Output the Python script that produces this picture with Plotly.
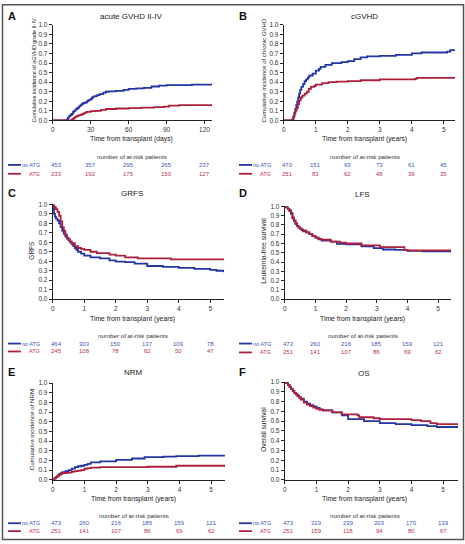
import plotly.graph_objects as go

W, H = 465, 544

# ---------------- data ----------------
# Panel A: acute GVHD II-IV (days)
A_t_no = [0, 9, 11, 12, 13, 14, 15, 16, 17, 18, 19, 20, 21, 22, 23, 24, 25, 26, 27, 28, 29, 30, 31, 32, 33, 35, 37, 40, 42, 44,
          50, 56, 60, 66, 72, 78, 84, 90, 100, 110, 126]
A_y_no = [0, 0, 0.01, 0.03, 0.045, 0.06, 0.07, 0.09, 0.10, 0.115, 0.125, 0.135, 0.15, 0.16, 0.175, 0.18, 0.185, 0.19, 0.20,
          0.21, 0.215, 0.225, 0.24, 0.25, 0.255, 0.265, 0.275, 0.29, 0.30, 0.305,
          0.31, 0.32, 0.33, 0.335, 0.34, 0.355, 0.365, 0.37, 0.37, 0.375, 0.375]
A_t_atg = [0, 13, 15, 16, 17, 18, 19, 20, 21, 22, 23, 24, 25, 26, 27, 30, 34, 38, 42, 50, 60, 70, 80, 88, 92, 100, 126]
A_y_atg = [0, 0, 0.01, 0.02, 0.03, 0.04, 0.045, 0.05, 0.055, 0.06, 0.065, 0.072, 0.08, 0.085, 0.09, 0.097, 0.10, 0.11, 0.12,
           0.125, 0.13, 0.135, 0.14, 0.145, 0.155, 0.16, 0.16]

# Panel B: cGVHD (years)
B_t_no = [0, 0.27, 0.3, 0.33, 0.36, 0.39, 0.42, 0.45, 0.48, 0.51, 0.55, 0.6, 0.65, 0.7, 0.75, 0.8, 0.9, 1.0, 1.1, 1.15, 1.3,
          1.5, 1.8, 2.0, 2.2, 2.4, 2.6, 3.0, 3.5, 4.0, 4.3, 5.0, 5.1, 5.2, 5.35]
B_y_no = [0, 0.01, 0.04, 0.08, 0.12, 0.16, 0.20, 0.24, 0.28, 0.32, 0.35, 0.38, 0.41, 0.43, 0.45, 0.47, 0.49, 0.52, 0.54,
          0.56, 0.58, 0.60, 0.61, 0.62, 0.64, 0.66, 0.67, 0.675, 0.685, 0.70, 0.71, 0.71, 0.72, 0.735, 0.735]
B_t_atg = [0, 0.27, 0.3, 0.33, 0.36, 0.4, 0.44, 0.48, 0.53, 0.58, 0.65, 0.72, 0.78, 0.85, 0.95, 1.0, 1.2, 1.4, 1.65, 2.0,
           2.4, 3.0, 4.1, 4.15, 5.35]
B_y_atg = [0, 0.01, 0.04, 0.07, 0.10, 0.13, 0.17, 0.21, 0.24, 0.26, 0.28, 0.30, 0.33, 0.35, 0.36, 0.375, 0.39, 0.40, 0.405,
           0.41, 0.42, 0.43, 0.435, 0.445, 0.445]

# Panel C: GRFS
C_t_no = [0, 0.02, 0.04, 0.07, 0.1, 0.15, 0.2, 0.25, 0.3, 0.35, 0.4, 0.45, 0.5, 0.55, 0.6, 0.65, 0.7, 0.75, 0.8, 0.9, 1.0,
          1.2, 1.5, 1.8, 2.0, 2.3, 2.6, 3.0, 3.5, 4.0, 4.5, 5.0, 5.2, 5.44]
C_y_no = [1.0, 0.95, 0.90, 0.87, 0.85, 0.83, 0.80, 0.76, 0.72, 0.69, 0.66, 0.64, 0.62, 0.60, 0.58, 0.56, 0.54, 0.52, 0.50,
          0.48, 0.46, 0.44, 0.43, 0.41, 0.395, 0.39, 0.375, 0.35, 0.34, 0.33, 0.32, 0.31, 0.30, 0.285]
C_t_atg = [0, 0.05, 0.1, 0.15, 0.2, 0.25, 0.3, 0.35, 0.4, 0.45, 0.5, 0.55, 0.6, 0.7, 0.8, 0.9, 1.0, 1.2, 1.4, 1.8, 2.0,
           2.3, 2.7, 3.7, 3.75, 5.44]
C_y_atg = [1.0, 0.97, 0.95, 0.92, 0.88, 0.82, 0.76, 0.72, 0.68, 0.65, 0.63, 0.61, 0.59, 0.56, 0.54, 0.53, 0.52, 0.50, 0.485,
           0.47, 0.46, 0.44, 0.43, 0.43, 0.42, 0.42]

# Panel D: LFS
D_t_no = [0, 0.05, 0.1, 0.15, 0.2, 0.25, 0.3, 0.35, 0.4, 0.45, 0.5, 0.55, 0.6, 0.7, 0.8, 0.9, 1.0, 1.1, 1.2, 1.5, 1.7, 2.0,
          2.5, 2.9, 3.2, 3.6, 4.0, 4.5, 5.42]
D_y_no = [1.0, 0.99, 0.97, 0.95, 0.92, 0.87, 0.84, 0.81, 0.79, 0.77, 0.76, 0.745, 0.73, 0.72, 0.70, 0.68, 0.66, 0.645, 0.63,
          0.62, 0.595, 0.59, 0.57, 0.55, 0.535, 0.53, 0.52, 0.515, 0.51]
D_t_atg = [0, 0.05, 0.1, 0.15, 0.2, 0.25, 0.3, 0.35, 0.4, 0.45, 0.5, 0.55, 0.6, 0.7, 0.8, 0.9, 1.0, 1.1, 1.2, 1.5, 1.8, 2.0,
           2.5, 3.0, 3.1, 3.7, 3.9, 4.0, 5.42]
D_y_atg = [1.0, 0.99, 0.97, 0.96, 0.93, 0.88, 0.85, 0.82, 0.79, 0.77, 0.76, 0.75, 0.74, 0.72, 0.70, 0.68, 0.665, 0.65, 0.64,
           0.62, 0.61, 0.60, 0.58, 0.58, 0.56, 0.56, 0.53, 0.525, 0.525]

# Panel E: NRM
E_t_no = [0, 0.05, 0.1, 0.15, 0.2, 0.25, 0.3, 0.4, 0.5, 0.6, 0.7, 0.8, 0.9, 1.0, 1.1, 1.2, 1.5, 2.0, 2.5, 2.9, 3.5, 3.9,
          4.6, 5.44]
E_y_no = [0, 0.015, 0.03, 0.045, 0.06, 0.07, 0.08, 0.09, 0.10, 0.115, 0.13, 0.14, 0.145, 0.155, 0.165, 0.18, 0.19, 0.205,
          0.22, 0.235, 0.24, 0.245, 0.25, 0.25]
E_t_atg = [0, 0.05, 0.1, 0.15, 0.2, 0.25, 0.3, 0.4, 0.5, 0.6, 0.7, 0.8, 0.9, 1.0, 1.1, 1.2, 1.5, 3.0, 3.9, 5.44]
E_y_atg = [0, 0.015, 0.03, 0.04, 0.05, 0.06, 0.07, 0.072, 0.075, 0.085, 0.09, 0.095, 0.10, 0.115, 0.12, 0.125, 0.13, 0.135,
           0.145, 0.145]

# Panel F: OS
F_t_no = [0, 0.05, 0.1, 0.15, 0.2, 0.25, 0.3, 0.35, 0.4, 0.45, 0.5, 0.6, 0.7, 0.8, 0.9, 1.0, 1.1, 1.2, 1.5, 1.8, 2.0, 2.5,
          3.0, 3.5, 4.0, 4.5, 4.8, 5.47]
F_y_no = [1.0, 0.99, 0.97, 0.95, 0.93, 0.91, 0.89, 0.875, 0.86, 0.845, 0.83, 0.80, 0.78, 0.765, 0.75, 0.735, 0.72, 0.71,
          0.69, 0.66, 0.62, 0.60, 0.58, 0.57, 0.56, 0.55, 0.54, 0.53]
F_t_atg = [0, 0.05, 0.1, 0.15, 0.2, 0.25, 0.3, 0.35, 0.4, 0.45, 0.5, 0.6, 0.7, 0.8, 0.9, 1.0, 1.1, 1.2, 1.5, 1.8, 2.3, 2.35,
           2.8, 3.0, 3.7, 4.0, 4.3, 4.6, 4.8, 5.47]
F_y_atg = [1.0, 0.99, 0.97, 0.95, 0.93, 0.91, 0.89, 0.875, 0.86, 0.84, 0.82, 0.79, 0.77, 0.755, 0.74, 0.725, 0.715, 0.71,
           0.69, 0.67, 0.66, 0.64, 0.63, 0.62, 0.62, 0.61, 0.60, 0.58, 0.57, 0.57]

# at-risk tables
A_ticks = [0, 30, 60, 90, 120]
Y_ticks = [0, 1, 2, 3, 4, 5]
A_risk_no = [453, 357, 295, 265, 237]
A_risk_atg = [233, 192, 175, 150, 127]
B_risk_no = [470, 151, 93, 73, 61, 45]
B_risk_atg = [251, 83, 62, 48, 39, 35]
C_risk_no = [464, 303, 150, 137, 109, 78]
C_risk_atg = [245, 108, 78, 62, 50, 47]
D_risk_no = [473, 260, 216, 185, 159, 121]
D_risk_atg = [251, 141, 107, 86, 69, 62]
E_risk_no = [473, 260, 216, 185, 159, 121]
E_risk_atg = [251, 141, 107, 86, 69, 62]
F_risk_no = [473, 319, 239, 203, 170, 139]
F_risk_atg = [251, 159, 118, 94, 80, 67]

series_names = ["no ATG", "ATG"]
panel_titles = ["acute GVHD II-IV", "cGVHD", "GRFS", "LFS", "NRM", "OS"]
panel_letters = ["A", "B", "C", "D", "E", "F"]
y_titles = ["Cumulative incidence of aGVHD grade II-IV", "Cumulative incidence of chronic GVHD",
            "GRFS", "Leukemia-free survival", "Cumulative incidence of NRM", "Overall survival"]
y_title_sizes = [5.4, 6, 6.5, 6.5, 6.2, 6.5]
x_titles = ["Time from transplant (days)"] + ["Time from transplant (years)"] * 5
risk_title = "number of at-risk patients"

# ---------------- style ----------------
BLUE = "#2334a3"
RED = "#ad1f3c"
BLUE_TXT = "#4256b4"
RED_TXT = "#b8344e"
FONT = "Liberation Sans, Arial, sans-serif"

panels = [
    dict(x0=51, x1=211, yt=21, yb=118, xmax=126, ticks=A_ticks, t=(A_t_no, A_y_no, A_t_atg, A_y_atg),
         risk=(A_risk_no, A_risk_atg), col=0, title_y=13, letter_y=12, xt_y=137, rt_y=154, r1=163, r2=172,
         title_x=130, ytx=32),
    dict(x0=283, x1=455, yt=21, yb=118, xmax=5.35, ticks=Y_ticks, t=(B_t_no, B_y_no, B_t_atg, B_y_atg),
         risk=(B_risk_no, B_risk_atg), col=1, title_y=13, letter_y=12, xt_y=137, rt_y=154, r1=163, r2=172,
         title_x=364, ytx=263),
    dict(x0=51, x1=223, yt=203, yb=299, xmax=5.44, ticks=Y_ticks, t=(C_t_no, C_y_no, C_t_atg, C_y_atg),
         risk=(C_risk_no, C_risk_atg), col=0, title_y=192, letter_y=191, xt_y=319, rt_y=336, r1=344, r2=352,
         title_x=131, ytx=30),
    dict(x0=284, x1=451, yt=205, yb=299, xmax=5.42, ticks=Y_ticks, t=(D_t_no, D_y_no, D_t_atg, D_y_atg),
         risk=(D_risk_no, D_risk_atg), col=1, title_y=193, letter_y=191, xt_y=319, rt_y=336, r1=344, r2=353,
         title_x=362, ytx=263),
    dict(x0=51, x1=224, yt=384, yb=482, xmax=5.44, ticks=Y_ticks, t=(E_t_no, E_y_no, E_t_atg, E_y_atg),
         risk=(E_risk_no, E_risk_atg), col=0, title_y=373, letter_y=373, xt_y=501, rt_y=518, r1=526, r2=534,
         title_x=132, ytx=30),
    dict(x0=284, x1=458, yt=383, yb=482, xmax=5.47, ticks=Y_ticks, t=(F_t_no, F_y_no, F_t_atg, F_y_atg),
         risk=(F_risk_no, F_risk_atg), col=1, title_y=374, letter_y=373, xt_y=501, rt_y=518, r1=526, r2=534,
         title_x=364, ytx=263),
]

def px(x):
    return x / W

def py(y):
    return 1 - y / H

fig = go.Figure()
annotations = []
shapes = []

for i, p in enumerate(panels):
    k = "" if i == 0 else str(i + 1)
    xa, ya = "x" + k, "y" + k
    t1, y1, t2, y2 = p["t"]
    fig.add_trace(go.Scatter(x=t1, y=y1, mode="lines", line=dict(color=BLUE, width=1.8, shape="hv"),
                             xaxis=xa, yaxis=ya, showlegend=False, name=series_names[0]))
    fig.add_trace(go.Scatter(x=t2, y=y2, mode="lines", line=dict(color=RED, width=1.8, shape="hv"),
                             xaxis=xa, yaxis=ya, showlegend=False, name=series_names[1]))
    common = dict(showgrid=False, zeroline=False, showline=True, linecolor="#222", linewidth=1,
                  ticks="outside", ticklen=3, tickcolor="#222", tickwidth=1,
                  tickfont=dict(family=FONT, size=6.5, color="#333"))
    fig.update_layout(**{
        "xaxis" + k: dict(domain=[px(p["x0"]), px(p["x1"])], range=[0, p["xmax"]], tickvals=p["ticks"],
                          anchor=ya, **common),
        "yaxis" + k: dict(domain=[py(p["yb"]), py(p["yt"])], range=[0, 1.0], tickvals=[j / 10 for j in range(11)],
                          tickformat=".1f", anchor=xa, **common),
    })
    colx = 0 if p["col"] == 0 else 232
    annotations.append(dict(text="<b>%s</b>" % panel_letters[i], x=px(colx + 4), y=py(p["letter_y"]),
                            xref="paper", yref="paper", xanchor="left", yanchor="middle", showarrow=False,
                            font=dict(family=FONT, size=11, color="#111")))
    annotations.append(dict(text=panel_titles[i], x=px(p["title_x"]), y=py(p["title_y"]),
                            xref="paper", yref="paper", xanchor="center", yanchor="middle", showarrow=False,
                            font=dict(family=FONT, size=8, color="#222")))
    annotations.append(dict(text=y_titles[i], x=px(p["ytx"]), y=py((p["yt"] + p["yb"]) / 2 - 2),
                            xref="paper", yref="paper", xanchor="center", yanchor="middle", showarrow=False,
                            textangle=-90, font=dict(family=FONT, size=y_title_sizes[i], color="#222")))
    annotations.append(dict(text=x_titles[i], x=px(p["title_x"]), y=py(p["xt_y"]),
                            xref="paper", yref="paper", xanchor="center", yanchor="middle", showarrow=False,
                            font=dict(family=FONT, size=6.8, color="#222")))
    annotations.append(dict(text=risk_title, x=px(p["title_x"] + 1), y=py(p["rt_y"]),
                            xref="paper", yref="paper", xanchor="center", yanchor="middle", showarrow=False,
                            font=dict(family=FONT, size=6.2, color="#333")))
    for row, (ry, col, tcol) in enumerate([(p["r1"], BLUE, BLUE_TXT), (p["r2"], RED, RED_TXT)]):
        shapes.append(dict(type="line", xref="paper", yref="paper", x0=px(colx + 6), x1=px(colx + 19),
                           y0=py(ry), y1=py(ry), line=dict(color=col, width=1.8)))
        annotations.append(dict(text=series_names[row], x=px(colx + 39), y=py(ry),
                                xref="paper", yref="paper", xanchor="right", yanchor="middle", showarrow=False,
                                borderpad=0, font=dict(family=FONT, size=5.5, color=tcol)))
        for tv, n in zip(p["ticks"], p["risk"][row]):
            annotations.append(dict(text=str(n), x=tv, y=py(ry), xref=xa, yref="paper",
                                    xanchor="center", yanchor="middle", showarrow=False,
                                    xshift=4 if tv == 0 else 0,
                                    font=dict(family=FONT, size=6, color=tcol)))

shapes.append(dict(type="rect", xref="paper", yref="paper", x0=px(0.5), x1=px(W - 1.5), y0=py(H - 1.5), y1=py(0.8),
                   line=dict(color="#555", width=1.5)))

fig.update_layout(width=W, height=H, margin=dict(l=0, r=0, t=0, b=0), autosize=False,
                  paper_bgcolor="white", plot_bgcolor="white", annotations=annotations, shapes=shapes,
                  showlegend=False)

fig.write_html("out.html", config={"displayModeBar": False},
               post_script="document.body.style.margin='0';document.body.style.overflow='hidden';")
